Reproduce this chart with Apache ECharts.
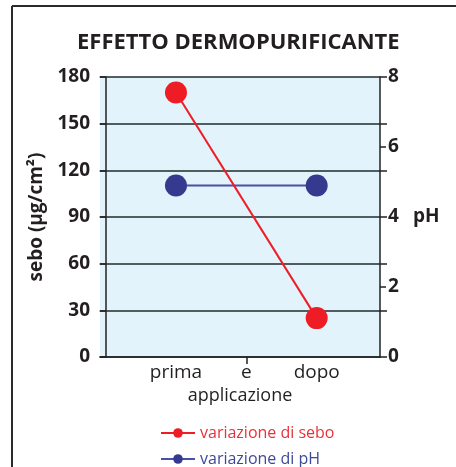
<!DOCTYPE html>
<html>
<head>
<meta charset="utf-8">
<script src="https://cdn.jsdelivr.net/npm/echarts@6/dist/echarts.min.js"></script>
<style>
html,body{margin:0;padding:0;background:#fff;}
#c{width:456px;height:467px;}
</style>
</head>
<body>
<div id="c"></div>
<script>
// Data
const categories = ['prima', 'e', 'dopo'];
const categoryPos = [1, 2, 3];
const seboValues = [170, 25];       // µg/cm², prima / dopo
const phValues = [4.9, 4.9];        // pH, prima / dopo
const pointPos = [1, 3];            // positions of "prima" and "dopo"
const seboTicks = [0, 30, 60, 90, 120, 150, 180];
const phTicks = [0, 2, 4, 6, 8];

const FONT = '"Open Sans", "Noto Sans", sans-serif';
const chart = echarts.init(document.getElementById('c'), null, {renderer: 'canvas'});

const labelMap = {};
categoryPos.forEach((p, i) => { labelMap[p] = categories[i]; });

chart.setOption({
  backgroundColor: '#ffffff',
  animation: false,
  title: {
    text: 'EFFETTO DERMOPURIFICANTE',
    left: 72,
    top: 27,
    textStyle: {fontFamily: FONT, fontSize: 22, fontWeight: 'bold', color: '#231f20'}
  },
  grid: {
    left: 100, right: 76, top: 77, bottom: 110,
    show: true, backgroundColor: '#e2f3fb', borderWidth: 0
  },
  legend: {
    orient: 'vertical',
    left: 155,
    top: 419,
    height: 48,
    itemWidth: 34,
    itemHeight: 12,
    itemGap: 8,
    textStyle: {fontFamily: FONT, fontSize: 16, lineHeight: 18},
    data: [
      {name: 'variazione di sebo', textStyle: {color: '#e8323a'}},
      {name: 'variazione di pH', textStyle: {color: '#3d4a9a'}}
    ]
  },
  xAxis: {
    type: 'value',
    min: -0.08,
    max: 3.9,
    name: 'applicazione',
    nameLocation: 'middle',
    nameGap: 30,
    nameTextStyle: {fontFamily: FONT, fontSize: 18, color: '#231f20'},
    axisLine: {show: true, lineStyle: {color: '#222', width: 1.5}},
    axisTick: {show: true, customValues: [2], length: 7, inside: false, lineStyle: {color: '#222', width: 1.5}},
    axisLabel: {
      customValues: categoryPos,
      formatter: v => labelMap[v] || '',
      fontFamily: FONT, fontSize: 19, color: '#231f20', margin: 6
    },
    splitLine: {show: false}
  },
  yAxis: [
    {
      type: 'value', position: 'left', min: 0, max: 180, interval: 30,
      name: 'sebo (µg/cm²)',
      nameLocation: 'middle',
      nameGap: 52,
      nameRotate: 90,
      nameTextStyle: {fontFamily: FONT, fontSize: 19, fontWeight: 'bold', color: '#231f20'},
      axisLine: {show: true, lineStyle: {color: '#222', width: 1.5}},
      axisTick: {show: true, length: 6, lineStyle: {color: '#222', width: 1.5}},
      axisLabel: {fontFamily: FONT, fontSize: 19, fontWeight: 'bold', color: '#231f20', margin: 10,
        customValues: seboTicks},
      splitLine: {show: true, lineStyle: {color: '#1e2b2b', width: 1.5}}
    },
    {
      type: 'value', position: 'right', min: 0, max: 8, interval: 2,
      name: 'pH',
      nameLocation: 'middle',
      nameRotate: 0,
      nameGap: 33,
      nameTextStyle: {fontFamily: FONT, fontSize: 19, fontWeight: 'bold', color: '#231f20', align: 'left'},
      axisLine: {show: true, lineStyle: {color: '#222', width: 1.5}},
      axisTick: {show: true, length: 6, lineStyle: {color: '#222', width: 1.5}},
      axisLabel: {fontFamily: FONT, fontSize: 19, fontWeight: 'bold', color: '#231f20', margin: 8,
        customValues: phTicks},
      splitLine: {show: false}
    },
    {
      type: 'value', position: 'right', min: 0, max: 180, interval: 30,
      axisLine: {show: false},
      axisTick: {show: true, length: 7, lineStyle: {color: '#222', width: 1.5}},
      axisLabel: {show: false},
      splitLine: {show: false}
    }
  ],
  series: [
    {
      name: 'variazione di sebo',
      type: 'line',
      yAxisIndex: 0,
      data: pointPos.map((p, i) => [p, seboValues[i]]),
      symbol: 'circle',
      symbolSize: 22,
      itemStyle: {color: '#ee1c25'},
      lineStyle: {color: '#ee1c25', width: 2},
      z: 3
    },
    {
      name: 'variazione di pH',
      type: 'line',
      yAxisIndex: 1,
      data: pointPos.map((p, i) => [p, phValues[i]]),
      symbol: 'circle',
      symbolSize: 22,
      itemStyle: {color: '#363a8e'},
      lineStyle: {color: '#4a50a6', width: 2},
      z: 2
    }
  ],
  graphic: [
    {type: 'line', shape: {x1: 12, y1: 6, x2: 456, y2: 6}, style: {stroke: '#2a2a2a', lineWidth: 2}},
    {type: 'line', shape: {x1: 12, y1: 6, x2: 12, y2: 467}, style: {stroke: '#2a2a2a', lineWidth: 2}}
  ]
});
</script>
</body>
</html>
